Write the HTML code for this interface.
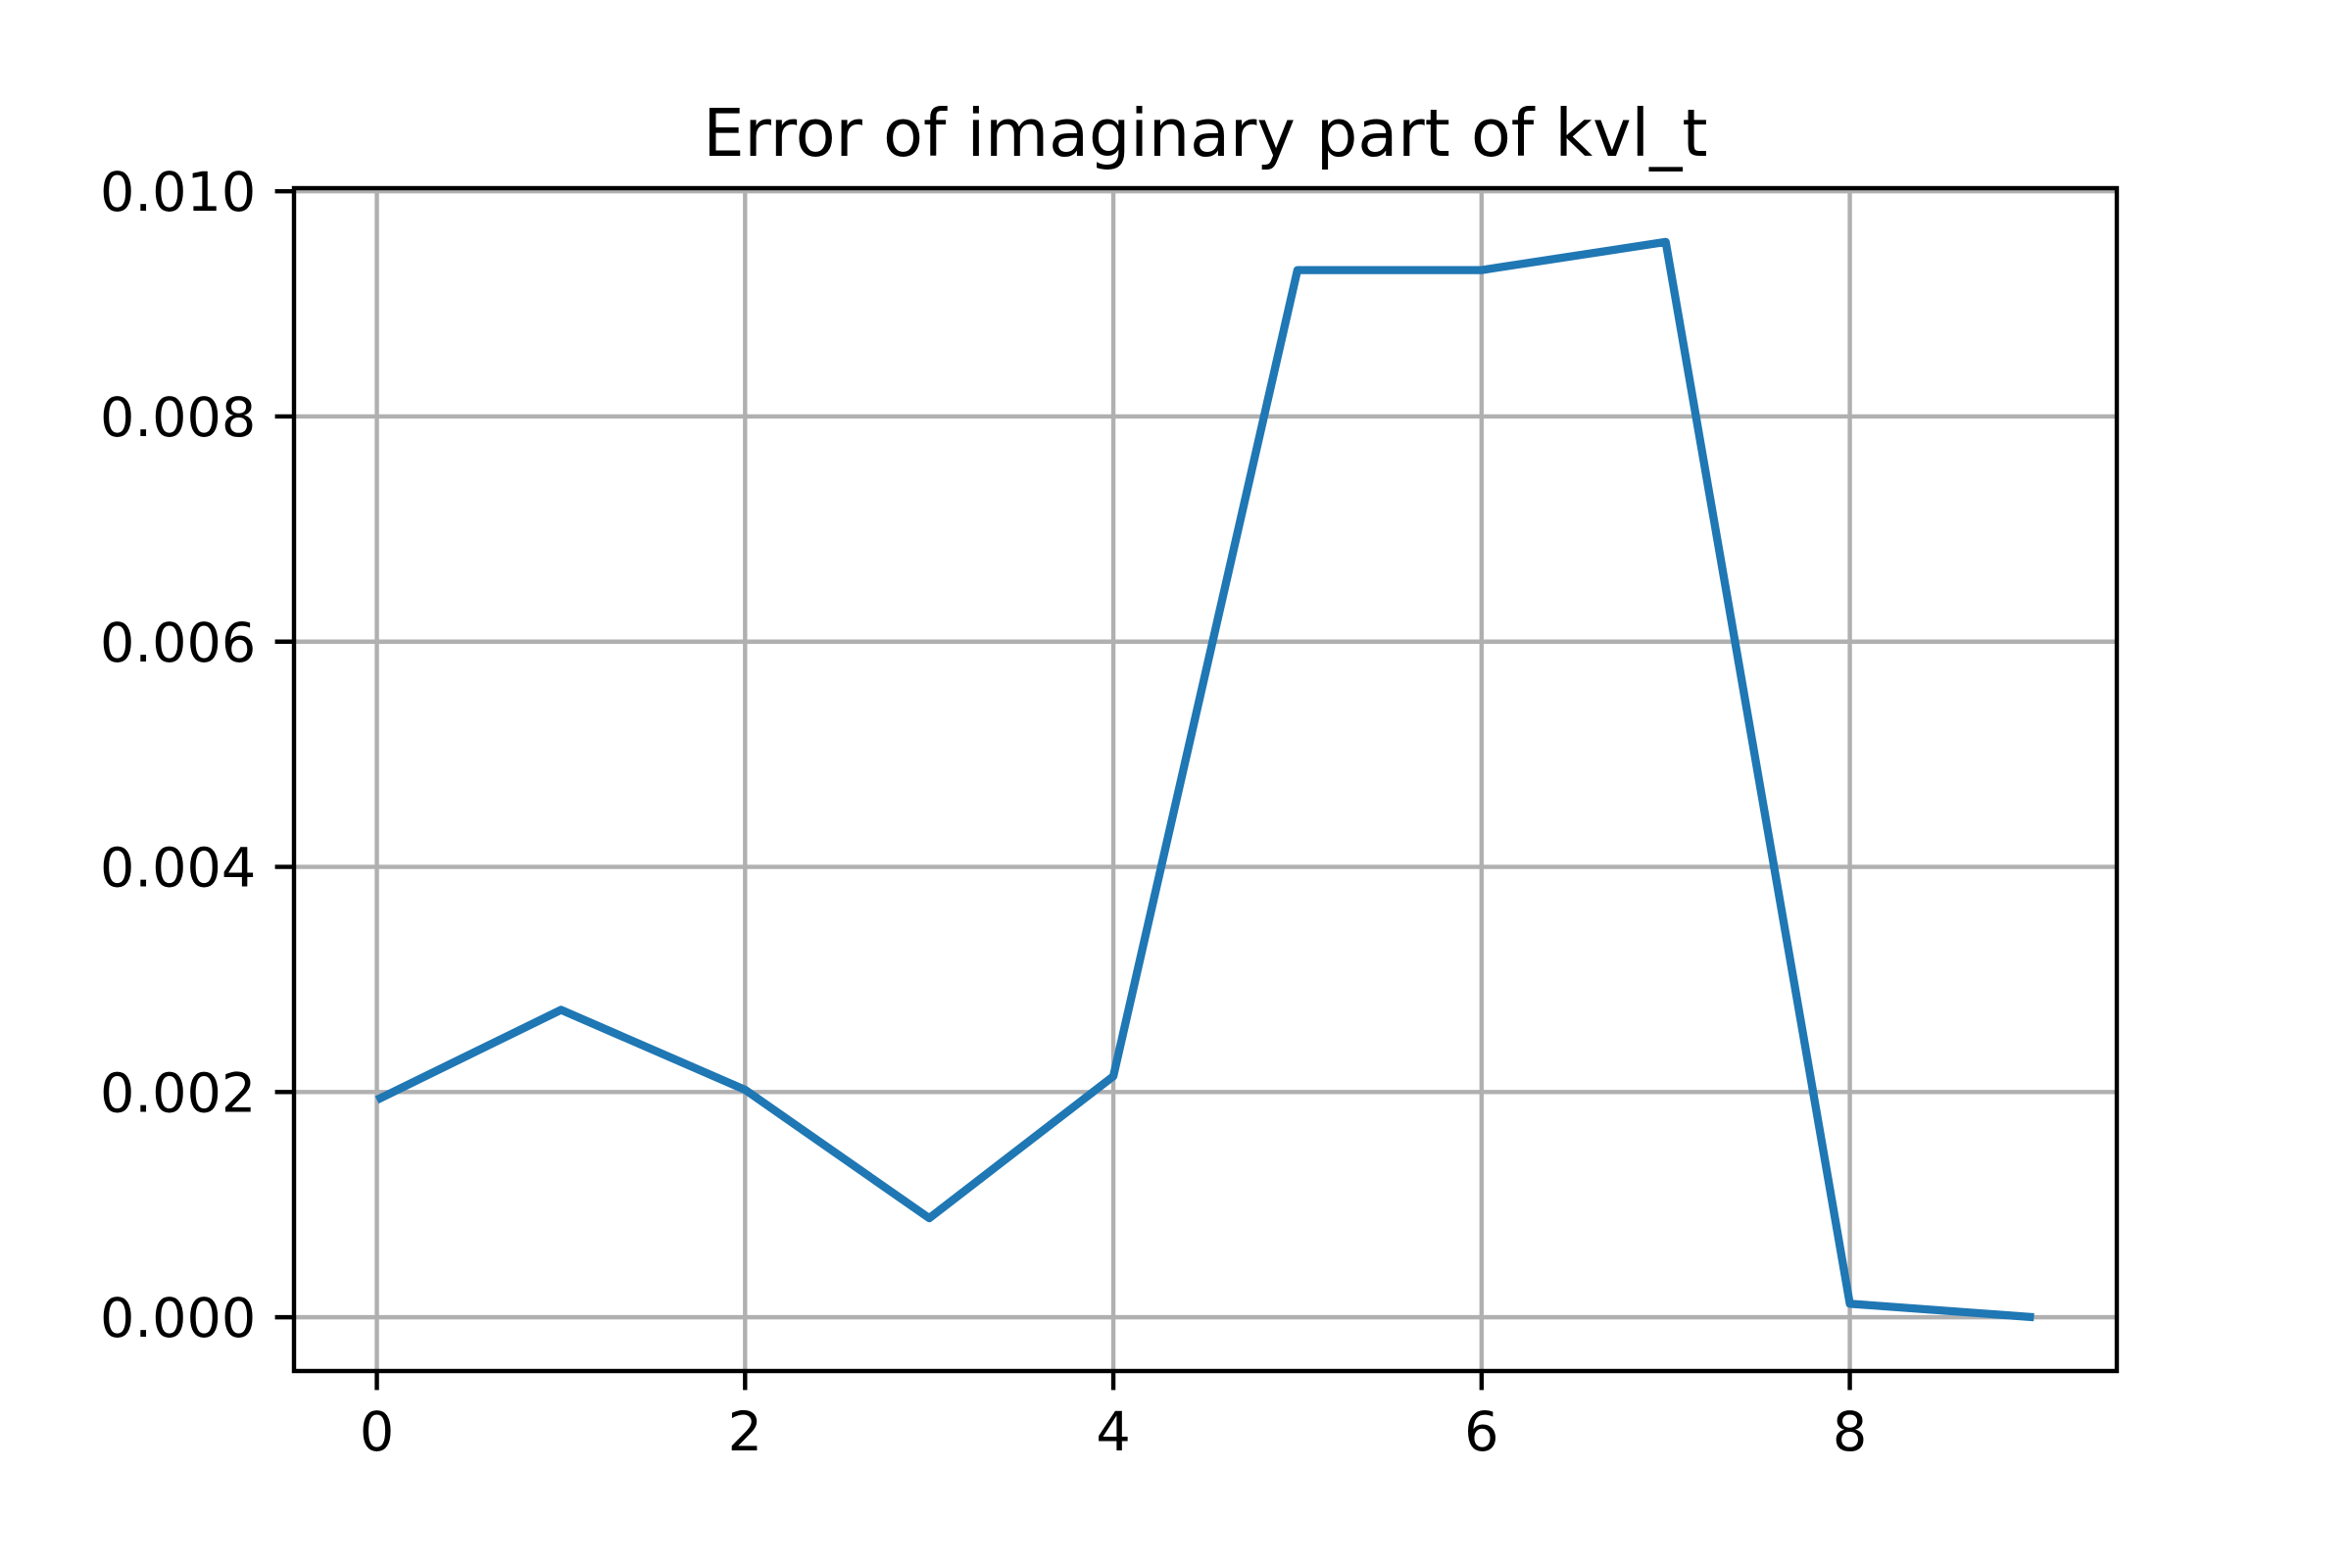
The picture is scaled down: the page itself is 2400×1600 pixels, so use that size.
<!DOCTYPE html>
<html><head><meta charset="utf-8"><style>html,body{margin:0;padding:0;background:#fff}svg{display:block}</style></head>
<body>
<svg id="chart" width="2400" height="1600" xmlns="http://www.w3.org/2000/svg" font-family="DejaVu Sans, Liberation Sans, sans-serif">
<rect width="2400" height="1600" fill="#fff"/>
<g id="grid"></g>
<g id="series"></g>
<g id="axes"></g>
<text x="1230" y="159" font-size="66.7" text-anchor="middle">Error of imaginary part of kvl_t</text>
</svg>
<script>
const xValues = [0,1,2,3,4,5,6,7,8,9];
const yValues = [0.00193,0.00273,0.00202,0.00088,0.00214,0.0093,0.0093,0.00955,0.00012,0.0];
const xTicks = [0,2,4,6,8];
const yTicks = [0.000,0.002,0.004,0.006,0.008,0.010];
const yTickLabels = ["0.000","0.002","0.004","0.006","0.008","0.010"];

const L=300,R=2160,T=192,B=1399;
const xMin=-0.45,xMax=9.45;
const ymaxD=Math.max(...yValues),yminD=Math.min(...yValues),m=(ymaxD-yminD)*0.05;
const yMin=yminD-m,yMax=ymaxD+m;
const sx=v=>L+(v-xMin)/(xMax-xMin)*(R-L);
const sy=v=>B-(v-yMin)/(yMax-yMin)*(B-T);
const NS="http://www.w3.org/2000/svg";
function mk(tag,attrs,parent){const e=document.createElementNS(NS,tag);for(const k in attrs)e.setAttribute(k,attrs[k]);parent.appendChild(e);return e;}
const grid=document.getElementById('grid'),axes=document.getElementById('axes'),series=document.getElementById('series');
xTicks.forEach(t=>{
  const g=mk('line',{x1:sx(t),x2:sx(t),y1:T,y2:B,stroke:'#b0b0b0','stroke-width':4.4},grid);
  
  
  const tk=mk('line',{x1:sx(t),x2:sx(t),y1:B,y2:B+19.4,stroke:'#000','stroke-width':4.4},axes);
  
  
  const lb=mk('text',{x:sx(t),y:B+19.4+19.4+42,'font-size':55.6,'text-anchor':'middle'},axes);
  lb.textContent=String(t);
  
  
});
yTicks.forEach((t,i)=>{
  const g=mk('line',{x1:L,x2:R,y1:sy(t),y2:sy(t),stroke:'#b0b0b0','stroke-width':4.4},grid);
  
  
  const tk=mk('line',{x1:L-19.4,x2:L,y1:sy(t),y2:sy(t),stroke:'#000','stroke-width':4.4},axes);
  
  
  const lb=mk('text',{x:L-19.4-19.4,y:sy(t)+20,'font-size':55.6,'text-anchor':'end'},axes);
  lb.textContent=yTickLabels[i];
  
  
});
const pts=xValues.map((x,i)=>sx(x)+','+sy(yValues[i])).join(' ');
const line=mk('polyline',{points:pts,fill:'none',stroke:'#1f77b4','stroke-width':8.3,'stroke-linejoin':'round','stroke-linecap':'butt'},series);


const frame=mk('rect',{x:L,y:T,width:R-L,height:B-T,fill:'none',stroke:'#000','stroke-width':4.4},axes);


</script>
</body></html>
